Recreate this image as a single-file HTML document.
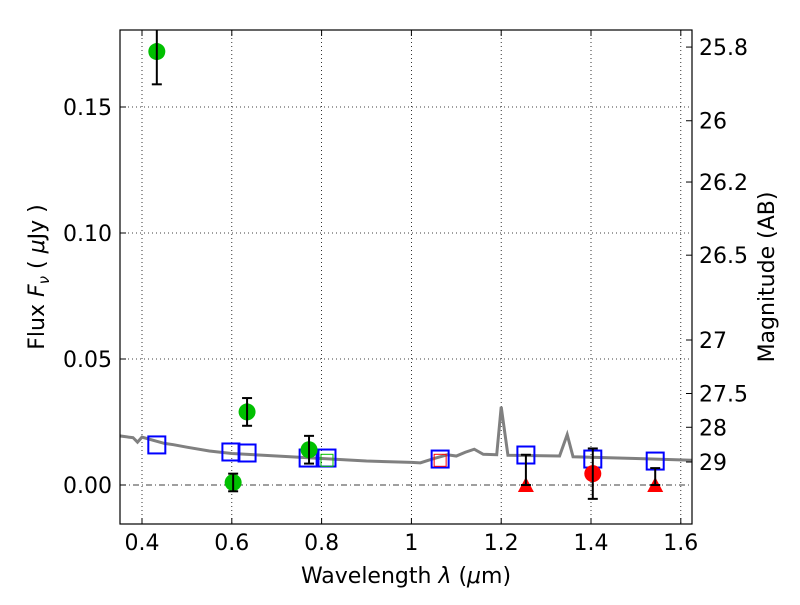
<!DOCTYPE html>
<html><head><meta charset="utf-8"><style>
body{margin:0;background:#fff;font-family:"Liberation Sans","DejaVu Sans",sans-serif}
svg text{font-family:"DejaVu Sans","Liberation Sans",sans-serif;font-size:22px;fill:#000}
</style></head><body>
<svg id="chart" width="800" height="600" xmlns="http://www.w3.org/2000/svg"></svg>
<script>
const xTicks=[0.4,0.6,0.8,1.0,1.2,1.4,1.6];
const xTickLabels=["0.4","0.6","0.8","1","1.2","1.4","1.6"];
const yTicks=[0.00,0.05,0.10,0.15];
const yTickLabels=["0.00","0.05","0.10","0.15"];
const magTicks=[25.8,26,26.2,26.5,27,27.5,28,29];
const magLabels=["25.8","26","26.2","26.5","27","27.5","28","29"];
const modelWl=[0.35,0.37,0.38,0.39,0.40,0.43,0.45,0.47,0.5,0.55,0.6,0.7,0.8,0.9,1.0,1.02,1.05,1.08,1.1,1.12,1.14,1.16,1.19,1.2,1.215,1.33,1.347,1.36,1.5,1.65];
const modelFlux=[0.0195,0.019,0.0188,0.017,0.019,0.0175,0.0165,0.016,0.015,0.0135,0.0125,0.0115,0.0105,0.0095,0.009,0.0088,0.0105,0.012,0.0115,0.013,0.0142,0.0122,0.012,0.031,0.0118,0.0115,0.020,0.0112,0.0105,0.0097];
const greenWl=[0.433,0.603,0.634,0.772];
const greenFlux=[0.172,0.001,0.029,0.014];
const greenErr=[0.013,0.0035,0.0055,0.0055];
const redWl=[1.404];const redFlux=[0.0045];const redErr=[0.010];
const limWl=[1.255,1.543];const limFlux=[0.012,0.0067];
const sqWl=[0.433,0.598,0.634,0.770,0.812,1.064,1.255,1.404,1.543];
const sqFlux=[0.0159,0.0131,0.0127,0.0107,0.0107,0.0103,0.0119,0.0103,0.0095];
const gsqWl=[0.812];const gsqFlux=[0.0098];
const rsqWl=[1.064];const rsqFlux=[0.0098];

const L=120,R=692,T=30,B=524;
const xp=v=>142+(v-0.4)*449;
const yp=f=>485-f*2520;
const svg=document.getElementById('chart');
const NS='http://www.w3.org/2000/svg';
function mk(tag,attrs,parent){const e=document.createElementNS(NS,tag);for(const k in attrs)e.setAttribute(k,attrs[k]);(parent||svg).appendChild(e);return e;}
const clip=mk('clipPath',{id:'c'});mk('rect',{x:L,y:T,width:R-L,height:B-T},clip);
const plot=mk('g',{'clip-path':'url(#c)'});
xTicks.forEach(v=>{const l=mk('line',{x1:xp(v),x2:xp(v),y1:T,y2:B,stroke:'#000','stroke-width':0.8,'stroke-dasharray':'1,3'},plot);

});
yTicks.forEach(v=>{const l=mk('line',{x1:L,x2:R,y1:yp(v),y2:yp(v),stroke:'#000','stroke-width':0.8,'stroke-dasharray':v===0?'6,3,1,3':'1,3'},plot);

});
const ml=mk('polyline',{points:modelWl.map((w,i)=>xp(w)+','+yp(modelFlux[i])).join(' '),fill:'none',stroke:'#808080','stroke-width':3},plot);


function errbar(x,y1,y2){mk('line',{x1:x,x2:x,y1:y1,y2:y2,stroke:'#000','stroke-width':2},plot);
[y1,y2].forEach(y=>mk('line',{x1:x-5,x2:x+5,y1:y,y2:y,stroke:'#000','stroke-width':2},plot));}
sqWl.forEach((w,i)=>{const s=mk('rect',{x:xp(w)-8.5,y:yp(sqFlux[i])-8.5,width:17,height:17,fill:'none',stroke:'#0000ff','stroke-width':2},plot);

});
gsqWl.forEach((w,i)=>{const s=mk('rect',{x:xp(w)-6,y:yp(gsqFlux[i])-6,width:12,height:12,fill:'none',stroke:'#00c000','stroke-width':1},plot);

});
rsqWl.forEach((w,i)=>{const s=mk('rect',{x:xp(w)-6,y:yp(rsqFlux[i])-6,width:12,height:12,fill:'none',stroke:'#ff0000','stroke-width':1},plot);

});
greenWl.forEach((w,i)=>{const c=mk('circle',{cx:xp(w),cy:yp(greenFlux[i]),r:8.5,fill:'#00c000'},plot);


errbar(xp(w),yp(greenFlux[i]+greenErr[i]),yp(greenFlux[i]-greenErr[i]));});
redWl.forEach((w,i)=>{const c=mk('circle',{cx:xp(w),cy:yp(redFlux[i]),r:8.5,fill:'#ff0000'},plot);


errbar(xp(w),yp(redFlux[i]+redErr[i]),yp(redFlux[i]-redErr[i]));});
limWl.forEach((w,i)=>{const x=xp(w),y=yp(0);
const t=mk('polygon',{points:`${x},${y-8} ${x-8},${y+7} ${x+8},${y+7}`,fill:'#ff0000'},plot);


errbar(x,yp(limFlux[i]),y);});
const fr=mk('rect',{x:L,y:T,width:R-L,height:B-T,fill:'none',stroke:'#000','stroke-width':1.2});


xTicks.forEach((v,i)=>{mk('line',{x1:xp(v),x2:xp(v),y1:B,y2:B-6,stroke:'#000'});mk('line',{x1:xp(v),x2:xp(v),y1:T,y2:T+6,stroke:'#000'});
const t=mk('text',{x:xp(v),y:B+26,'text-anchor':'middle'});t.textContent=xTickLabels[i];

});
yTicks.forEach((v,i)=>{mk('line',{x1:L,x2:L+6,y1:yp(v),y2:yp(v),stroke:'#000'});
const t=mk('text',{x:L-8,y:yp(v)+8,'text-anchor':'end'});t.textContent=yTickLabels[i];

});
magTicks.forEach((m,i)=>{const f=Math.pow(10,(23.9-m)/2.5);const y=yp(f);
mk('line',{x1:R,x2:R-6,y1:y,y2:y,stroke:'#000'});
const t=mk('text',{x:R+7,y:y+8,'text-anchor':'start'});t.textContent=magLabels[i];

});
const xt=mk('text',{x:406,y:583,'text-anchor':'middle'});xt.innerHTML='Wavelength  <tspan font-style="italic">λ</tspan> (<tspan font-style="italic">μ</tspan>m)';


const yt=mk('text',{x:0,y:0,'text-anchor':'middle',transform:'translate(44,277) rotate(-90)'});yt.innerHTML='Flux  <tspan font-style="italic">F</tspan><tspan font-style="italic" font-size="15" dy="5">ν</tspan><tspan dy="-5">  (  </tspan><tspan font-style="italic">μ</tspan>Jy )';


const rt=mk('text',{x:0,y:0,'text-anchor':'middle',transform:'translate(774,277) rotate(-90)'});rt.textContent='Magnitude (AB)';


</script>
</body></html>
